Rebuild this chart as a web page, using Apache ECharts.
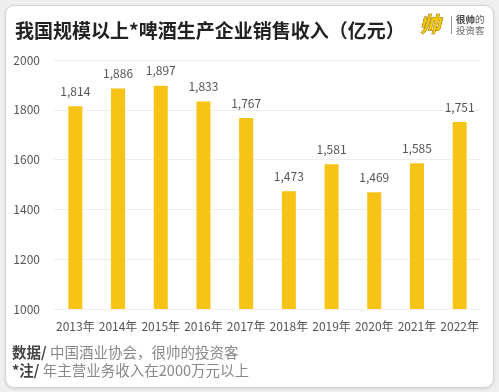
<!DOCTYPE html>
<html><head><meta charset="utf-8">
<script src="https://cdn.jsdelivr.net/npm/echarts@6/dist/echarts.min.js"></script>
<style>
html,body{margin:0;padding:0;background:#efefef;width:499px;height:392px;overflow:hidden;}
#card{position:absolute;left:5px;top:5px;width:487px;height:381px;background:#fff;border:1px solid #d4d4d4;border-radius:9px;box-shadow:0 1px 3px rgba(0,0,0,0.12);}
#chart{position:absolute;left:0;top:0;width:499px;height:392px;}
</style></head>
<body><div id="card"></div><div id="chart"></div>
<script>
const categories = ['2013年','2014年','2015年','2016年','2017年','2018年','2019年','2020年','2021年','2022年'];
const revenue = [1814,1886,1897,1833,1767,1473,1581,1469,1585,1751];
const yTicks = [1000,1200,1400,1600,1800,2000];
const titleText = '我国规模以上*啤酒生产企业销售收入（亿元）';

const chart = echarts.init(document.getElementById('chart'), null, {renderer:'canvas'});
const font = '"Noto Sans CJK SC","Noto Sans",sans-serif';
chart.setOption({
  animation:false,
  textStyle:{fontFamily:font},
  title:{text:titleText,left:10,top:16,textStyle:{fontSize:19,fontWeight:'bold',color:'#222',fontFamily:font}},
  graphic:[
    {type:'text',left:419,top:13,style:{text:'帅',font:'italic bold 21px '+font,fill:'#f7c600',stroke:'#7a6000',lineWidth:0.8}},
    {type:'rect',shape:{x:451,y:16,width:1,height:18},style:{fill:'#999'}},
    {type:'text',left:456,top:15,style:{rich:{b:{font:'bold 9.5px '+font,fill:'#444'},n:{font:'9.5px '+font,fill:'#555'}},text:'{b|很帅}{n|的}'}},
    {type:'text',left:456,top:26,style:{text:'投资客',font:'9.5px '+font,fill:'#666'}},
    {type:'text',left:12,top:345,style:{rich:{b:{font:'bold 14.5px '+font,fill:'#444'},n:{font:'14.5px '+font,fill:'#888'}},text:'{b|数据/} {n|中国酒业协会，很帅的投资客}'}},
    {type:'text',left:12,top:363,style:{rich:{b:{font:'bold 14.5px '+font,fill:'#444'},n:{font:'14.5px '+font,fill:'#888'}},text:'{b|*注/} {n|年主营业务收入在2000万元以上}'}}
  ],
  grid:{left:54,right:18,top:60,bottom:83,containLabel:false},
  xAxis:{type:'category',data:categories,
    axisLine:{show:false},axisTick:{show:false},
    axisLabel:{color:'#555',fontSize:12,margin:11,interval:0,fontFamily:font}},
  yAxis:{type:'value',min:yTicks[0],max:yTicks[yTicks.length-1],interval:200,
    axisLine:{show:false},axisTick:{show:false},
    axisLabel:{color:'#555',fontSize:12,margin:14,fontFamily:font,formatter:v=>String(v)},
    splitLine:{lineStyle:{color:'#eeeeee',width:1}}},
  series:[{type:'bar',data:revenue,barWidth:14,itemStyle:{color:'#F8C317'},
    label:{show:true,position:'top',distance:9,color:'#555',fontSize:12,fontFamily:font,
      formatter:p=>p.value.toLocaleString('en-US')}}]
});
</script></body></html>
